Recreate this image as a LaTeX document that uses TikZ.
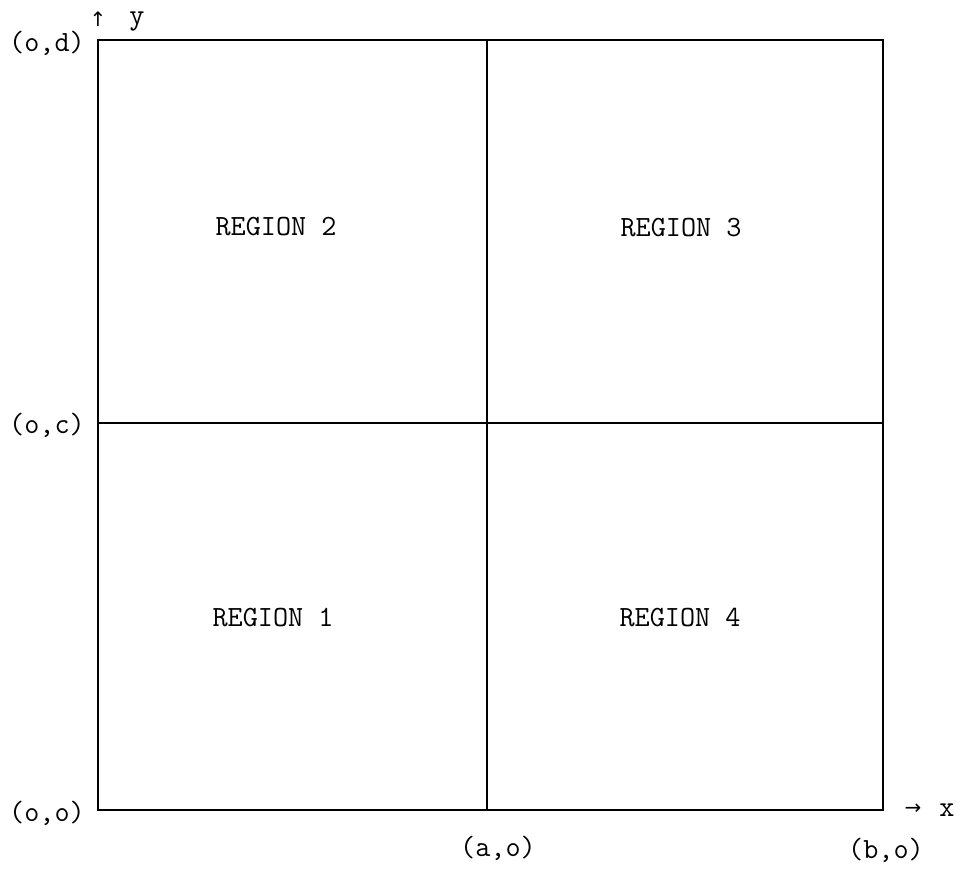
\documentclass[tikz,border=0pt]{standalone}
\usepackage{fontspec}
\newfontfamily\arrowfont{DejaVu Sans}
\begin{document}
\begin{tikzpicture}[x=0.75pt,y=-0.75pt,
  lbl/.style={inner sep=0pt,font=\ttfamily\fontsize{22}{26}\selectfont},
  arr/.style={inner sep=0pt,font=\arrowfont\fontsize{15}{18}\selectfont},
  outer/.style={line width=2pt},
  inner/.style={line width=1.4pt}]
\useasboundingbox (0,0) rectangle (960,871);
% corners
\coordinate (TL) at (98,40);
\coordinate (TR) at (883,40);
\coordinate (BL) at (98,810);
\coordinate (BR) at (883,810);
\coordinate (TM) at (487,40);
\coordinate (BM) at (487,810);
\coordinate (ML) at (98,423);
\coordinate (MR) at (883,423);
% frame
\draw[outer] (TL) -- (TR) -- (BR) -- (BL) -- cycle;
\draw[inner] (TM) -- (BM);
\draw[inner] (ML) -- (MR);
% axis labels
\node[lbl] (od) at (47,43) {(o,d)};
\node[lbl] (oc) at (47,425) {(o,c)};
\node[lbl] (oo) at (47,813) {(o,o)};
\node[lbl] (ao) at (498,848) {(a,o)};
\node[lbl] (bo) at (886,850) {(b,o)};
\node[arr] (ua) at (98,19) {↑};
\node[lbl] (ylab) at (137,22) {y};
\node[arr] (ra) at (913,809) {→};
\node[lbl] (xlab) at (947,810) {x};
% regions
\node[lbl] (r2) at (276,227) {REGION 2};
\node[lbl] (r3) at (681,228) {REGION 3};
\node[lbl] (r1) at (273,618) {REGION 1};
\node[lbl] (r4) at (680,618) {REGION 4};
\end{tikzpicture}
\end{document}
